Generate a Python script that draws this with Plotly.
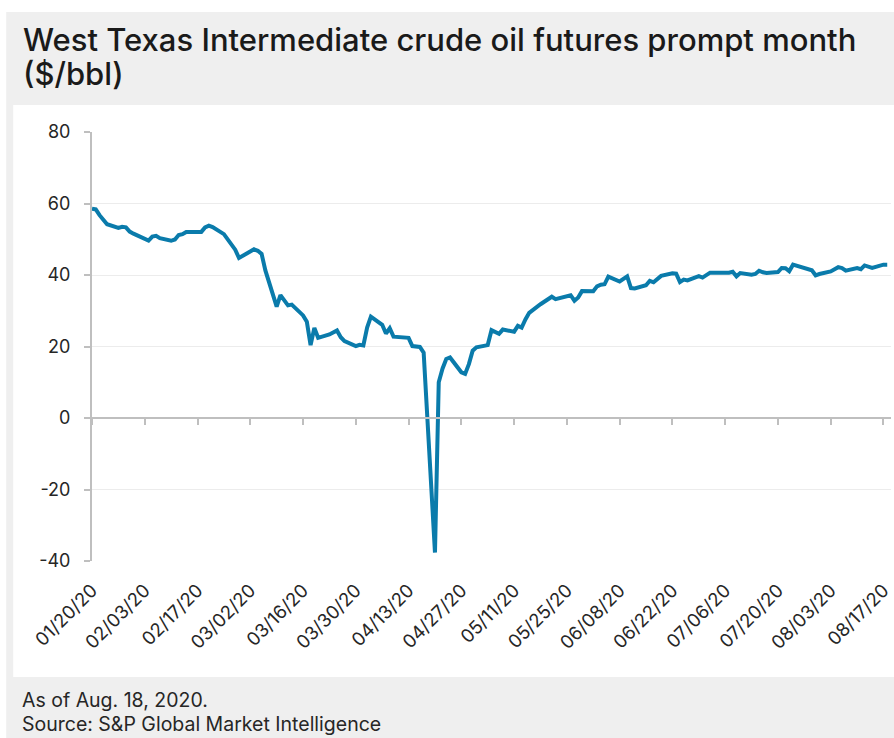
import plotly.graph_objects as go

# ---------------- data ----------------
dates = [
    "2020-01-20", "2020-01-21", "2020-01-22", "2020-01-23", "2020-01-24",
    "2020-01-27", "2020-01-28", "2020-01-29", "2020-01-30", "2020-01-31",
    "2020-02-03", "2020-02-04", "2020-02-05", "2020-02-06", "2020-02-07",
    "2020-02-10", "2020-02-11", "2020-02-12", "2020-02-13", "2020-02-14",
    "2020-02-18", "2020-02-19", "2020-02-20", "2020-02-21",
    "2020-02-24", "2020-02-25", "2020-02-26", "2020-02-27", "2020-02-28",
    "2020-03-02", "2020-03-03", "2020-03-04", "2020-03-05", "2020-03-06",
    "2020-03-09", "2020-03-10", "2020-03-11", "2020-03-12", "2020-03-13",
    "2020-03-16", "2020-03-17", "2020-03-18", "2020-03-19", "2020-03-20",
    "2020-03-23", "2020-03-24", "2020-03-25", "2020-03-26", "2020-03-27",
    "2020-03-30", "2020-03-31", "2020-04-01", "2020-04-02", "2020-04-03",
    "2020-04-06", "2020-04-07", "2020-04-08", "2020-04-09",
    "2020-04-13", "2020-04-14", "2020-04-15", "2020-04-16", "2020-04-17",
    "2020-04-20", "2020-04-21", "2020-04-22", "2020-04-23", "2020-04-24",
    "2020-04-27", "2020-04-28", "2020-04-29", "2020-04-30", "2020-05-01",
    "2020-05-04", "2020-05-05", "2020-05-06", "2020-05-07", "2020-05-08",
    "2020-05-11", "2020-05-12", "2020-05-13", "2020-05-14", "2020-05-15",
    "2020-05-18", "2020-05-19", "2020-05-20", "2020-05-21", "2020-05-22",
    "2020-05-26", "2020-05-27", "2020-05-28", "2020-05-29",
    "2020-06-01", "2020-06-02", "2020-06-03", "2020-06-04", "2020-06-05",
    "2020-06-08", "2020-06-09", "2020-06-10", "2020-06-11", "2020-06-12",
    "2020-06-15", "2020-06-16", "2020-06-17", "2020-06-18", "2020-06-19",
    "2020-06-22", "2020-06-23", "2020-06-24", "2020-06-25", "2020-06-26",
    "2020-06-29", "2020-06-30", "2020-07-01", "2020-07-02",
    "2020-07-06", "2020-07-07", "2020-07-08", "2020-07-09", "2020-07-10",
    "2020-07-13", "2020-07-14", "2020-07-15", "2020-07-16", "2020-07-17",
    "2020-07-20", "2020-07-21", "2020-07-22", "2020-07-23", "2020-07-24",
    "2020-07-27", "2020-07-28", "2020-07-29", "2020-07-30", "2020-07-31",
    "2020-08-03", "2020-08-04", "2020-08-05", "2020-08-06", "2020-08-07",
    "2020-08-10", "2020-08-11", "2020-08-12", "2020-08-13", "2020-08-14",
    "2020-08-17", "2020-08-18",
]

prices = [
    58.54, 58.34, 56.74, 55.59, 54.19,
    53.14, 53.48, 53.33, 52.14, 51.56,
    50.11, 49.61, 50.75, 50.95, 50.32,
    49.57, 49.94, 51.17, 51.42, 52.05,
    52.05, 53.29, 53.78, 53.38,
    51.43, 49.90, 48.73, 47.09, 44.76,
    46.75, 47.18, 46.78, 45.90, 41.28,
    31.13, 34.36, 32.98, 31.50, 31.73,
    28.70, 26.95, 20.37, 25.22, 22.43,
    23.36, 24.01, 24.49, 22.60, 21.51,
    20.09, 20.48, 20.31, 25.32, 28.34,
    26.08, 23.63, 25.09, 22.76,
    22.41, 20.11, 19.87, 19.87, 18.27,
    -37.63, 10.01, 13.78, 16.50, 16.94,
    12.78, 12.34, 15.06, 18.84, 19.78,
    20.39, 24.56, 23.99, 23.55, 24.74,
    24.14, 25.78, 25.29, 27.56, 29.43,
    31.82, 32.50, 33.49, 33.92, 33.25,
    34.35, 32.81, 33.71, 35.49,
    35.44, 36.81, 37.29, 37.41, 39.55,
    38.19, 38.94, 39.60, 36.34, 36.26,
    37.12, 38.38, 37.96, 38.84, 39.75,
    40.46, 40.37, 38.01, 38.72, 38.49,
    39.70, 39.27, 39.82, 40.65,
    40.63, 40.62, 40.90, 39.62, 40.55,
    40.10, 40.29, 41.20, 40.75, 40.59,
    40.81, 41.96, 41.90, 41.07, 42.90,
    42.00, 41.60, 41.30, 39.92, 40.27,
    41.01, 41.70, 42.19, 41.95, 41.22,
    41.94, 41.61, 42.67, 42.24, 42.01,
    42.89, 42.89,
]

tick_dates = [
    "2020-01-20", "2020-02-03", "2020-02-17", "2020-03-02", "2020-03-16",
    "2020-03-30", "2020-04-13", "2020-04-27", "2020-05-11", "2020-05-25",
    "2020-06-08", "2020-06-22", "2020-07-06", "2020-07-20", "2020-08-03",
    "2020-08-17",
]
tick_labels = [
    "01/20/20", "02/03/20", "02/17/20", "03/02/20", "03/16/20",
    "03/30/20", "04/13/20", "04/27/20", "05/11/20", "05/25/20",
    "06/08/20", "06/22/20", "07/06/20", "07/20/20", "08/03/20",
    "08/17/20",
]
y_ticks = [-40, -20, 0, 20, 40, 60, 80]
y_tick_labels = ["-40", "-20", "0", "20", "40", "60", "80"]

title_line1 = "West Texas Intermediate crude oil futures prompt month"
title_line2 = "($/bbl)"
footer_line1 = "As of Aug. 18, 2020."
footer_line2 = "Source: S&P Global Market Intelligence"

# ---------------- layout helpers ----------------
W, H = 894, 738
PL, PR, PT, PB = 92, 893, 132, 561


def px(x):
    return (x - PL) / (PR - PL)


def py(y):
    return (PB - y) / (PB - PT)


LINE = "#0a7bab"
AXIS = "#bfbfbf"
GRID = "#ececec"
TXT = "#262626"
FONT = "Inter, Roboto, Arial, sans-serif"

fig = go.Figure()
fig.add_trace(go.Scatter(
    x=dates, y=prices, mode="lines",
    line=dict(color=LINE, width=4),
    hoverinfo="x+y", showlegend=False,
))
# helper trace so the zero-line axis is drawn
fig.add_trace(go.Scatter(
    x=[dates[0]], y=[0], xaxis="x2", mode="markers",
    marker=dict(opacity=0), hoverinfo="skip", showlegend=False,
))

fig.update_layout(
    width=W, height=H,
    margin=dict(l=PL, r=W - PR, t=PT, b=H - PB, pad=0),
    paper_bgcolor="white",
    plot_bgcolor="white",
    font=dict(family=FONT, color=TXT),
    xaxis=dict(
        type="date",
        range=["2020-01-20", "2020-08-19"],
        tickvals=tick_dates, ticktext=tick_labels,
        tickangle=-45,
        tickfont=dict(size=18.5, color=TXT, family=FONT),
        ticks="", showline=False, showgrid=False, zeroline=False,
        ticklabelstandoff=14,
        ticklabeloverflow="allow",
        fixedrange=True,
    ),
    xaxis2=dict(
        type="date", overlaying="x", matches="x", anchor="free",
        position=40 / 120,
        tickvals=tick_dates, showticklabels=False,
        ticks="outside", ticklen=6, tickwidth=1.5, tickcolor=AXIS,
        showline=True, linecolor=AXIS, linewidth=1.5,
        showgrid=False, zeroline=False,
    ),
    yaxis=dict(
        range=[-40, 80], tickvals=y_ticks, ticktext=y_tick_labels,
        tickfont=dict(size=18, color=TXT, family=FONT),
        showgrid=True, gridcolor=GRID, gridwidth=1,
        zeroline=False,
        showline=True, linecolor=AXIS, linewidth=2,
        ticks="outside", ticklen=6, tickwidth=1.5, tickcolor=AXIS,
        ticklabelstandoff=10,
        fixedrange=True,
    ),
    shapes=[
        dict(type="rect", xref="paper", yref="paper", layer="below",
             x0=px(6), x1=px(W + 2), y0=py(H + 2), y1=py(12),
             fillcolor="#efefef", line=dict(width=0)),
        dict(type="rect", xref="paper", yref="paper", layer="below",
             x0=px(13), x1=px(W + 2), y0=py(677), y1=py(105),
             fillcolor="white", line=dict(width=0)),
    ],
    annotations=[
        dict(text=title_line1, xref="paper", yref="paper", x=px(21), y=py(40),
             xanchor="left", yanchor="middle", showarrow=False,
             font=dict(size=31, color="#1a1a1a", family=FONT, weight=500)),
        dict(text=title_line2, xref="paper", yref="paper", x=px(21), y=py(73),
             xanchor="left", yanchor="middle", showarrow=False,
             font=dict(size=31, color="#1a1a1a", family=FONT, weight=500)),
        dict(text=footer_line1, xref="paper", yref="paper", x=px(20), y=py(700),
             xanchor="left", yanchor="middle", showarrow=False,
             font=dict(size=19.5, color=TXT, family=FONT)),
        dict(text=footer_line2, xref="paper", yref="paper", x=px(20), y=py(724),
             xanchor="left", yanchor="middle", showarrow=False,
             font=dict(size=19.5, color=TXT, family=FONT)),
    ],
)

fig.write_html(
    "out.html",
    config={"displayModeBar": False},
    post_script="document.body.style.margin='0px';document.body.style.overflow='hidden';",
)
